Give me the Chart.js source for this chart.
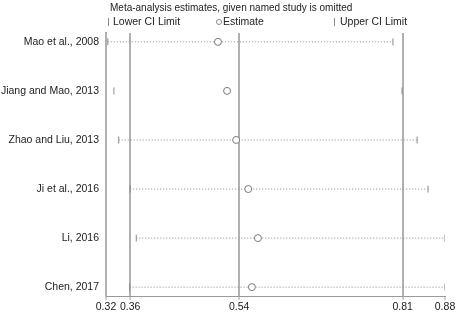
<!DOCTYPE html>
<html><head><meta charset="utf-8">
<script src="https://cdn.jsdelivr.net/npm/chart.js@4/dist/chart.umd.min.js"></script>
<style>html,body{margin:0;padding:0;background:#fff}#wrap{width:461px;height:315px}</style>
</head><body><div id="wrap"><canvas id="c" width="461" height="315"></canvas></div>
<script>
const studies = ["Mao et al., 2008","Jiang and Mao, 2013","Zhao and Liu, 2013","Ji et al., 2016","Li, 2016","Chen, 2017"];
const lowerCI = [0.323, 0.333, 0.341, 0.360, 0.370, 0.359];
const estimate = [0.505, 0.520, 0.535, 0.555, 0.571, 0.561];
const upperCI = [0.794, 0.809, 0.834, 0.852, 0.880, 0.880];
const spanVisible = [true, false, true, true, true, true];
const xTicks = [0.32, 0.36, 0.54, 0.81, 0.88];
const refLines = [0.36, 0.54, 0.81];
const titleText = "Meta-analysis estimates, given named study is omitted";
const legendLabels = ["Lower CI Limit", "Estimate", "Upper CI Limit"];

const FONT = "'Liberation Sans', Arial, sans-serif";
const rows = studies.map((s,i)=>i+1);

const datasets = [];
studies.forEach((s,i)=>{
  datasets.push({
    type:'line',
    data:[{x:lowerCI[i],y:rows[i]},{x:upperCI[i],y:rows[i]}],
    borderColor: spanVisible[i] ? '#8a8a8a' : 'rgba(0,0,0,0)',
    borderWidth:1,
    borderDash:[1,2],
    pointStyle:'line',
    rotation:90,
    pointRadius:3.5,
    pointBorderColor:'#8a8a8a',
    pointBorderWidth:1,
    order:2
  });
});
datasets.push({
  type:'scatter',
  data: estimate.map((v,i)=>({x:v,y:rows[i]})),
  pointStyle:'circle',
  pointRadius:3.5,
  borderColor:'#7a7a7a',
  backgroundColor:'#ffffff',
  borderWidth:1,
  order:1
});

const headerPlugin = {
  id:'header',
  afterDraw(chart){
    const ctx = chart.ctx;
    ctx.save();
    ctx.fillStyle = '#222';
    ctx.font = '10px ' + FONT;
    ctx.textBaseline = 'middle';
    ctx.textAlign = 'left';
    ctx.fillText(titleText, 110, 8);
    ctx.font = '10.5px ' + FONT;
    // legend
    ctx.strokeStyle = '#8a8a8a';
    ctx.lineWidth = 1;
    ctx.beginPath(); ctx.moveTo(108.5,18); ctx.lineTo(108.5,26); ctx.stroke();
    ctx.fillText(legendLabels[0], 113, 22);
    ctx.beginPath(); ctx.arc(219,22,2.5,0,Math.PI*2); ctx.stroke();
    ctx.fillText(legendLabels[1], 223, 22);
    ctx.beginPath(); ctx.moveTo(334.5,18); ctx.lineTo(334.5,26); ctx.stroke();
    ctx.fillText(legendLabels[2], 340, 22);
    ctx.restore();
  }
};

new Chart(document.getElementById('c'), {
  type:'scatter',
  data:{datasets},
  plugins:[headerPlugin],
  options:{
    responsive:false,
    animation:false,
    events:[],
    layout:{padding:{top:33,right:16,left:0,bottom:0}},
    plugins:{legend:{display:false},tooltip:{enabled:false},title:{display:false}},
    scales:{
      x:{
        type:'linear', min:0.32, max:0.88,
        afterBuildTicks(scale){ scale.ticks = xTicks.map(v=>({value:v})); },
        afterFit(scale){ scale.height = 19; },
        ticks:{
          callback:(v)=>xTicks.includes(v)?v.toFixed(2):'',
          font:{family:FONT,size:10.5}, color:'#222', padding:1, maxRotation:0, autoSkip:false
        },
        grid:{
          color:(c)=> (c.tick && refLines.includes(c.tick.value)) ? '#b0b0b0' : 'rgba(0,0,0,0)',
          lineWidth:2,
          drawTicks:true,
          tickLength:4,
          tickColor:'#a0a0a0',
          tickWidth:1
        },
        border:{display:true,color:'#999',width:1}
      },
      y:{
        type:'linear', reverse:true, min:0.82, max:6.18,
        afterBuildTicks(scale){ scale.ticks = rows.map(v=>({value:v})); },
        afterFit(scale){ scale.width = 106; },
        ticks:{
          callback:(v)=> studies[v-1] || '',
          font:{family:FONT,size:10.5}, color:'#222', padding:7, autoSkip:false
        },
        grid:{display:false, drawTicks:false},
        border:{display:true,color:'#b0b0b0',width:2}
      }
    }
  }
});
</script></body></html>
